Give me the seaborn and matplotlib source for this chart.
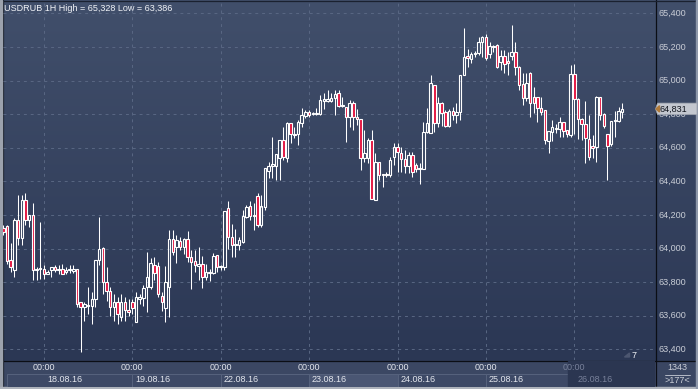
import numpy as np
import pandas as pd
import matplotlib
matplotlib.use("Agg")
import matplotlib.pyplot as plt
import matplotlib.transforms as mtransforms
from matplotlib.colors import LinearSegmentedColormap
from matplotlib.patches import Rectangle, Polygon
import seaborn as sns

# ==========================================
# data (USDRUB 1H)
# ==========================================
title = "USDRUB 1H High = 65,328 Low = 63,386"

opens = [
    64.12, 64.136, 63.93, 63.87, 64.17, 64.06, 64.29, 64.17, 64.20, 63.87,
    63.88, 63.88, 63.85, 63.87, 63.89, 63.87, 63.876, 63.86, 63.87, 63.866,
    63.88, 63.68, 63.65, 63.66, 63.66, 63.70, 63.93, 64.00, 63.80, 63.75,
    63.65, 63.68, 63.595, 63.684, 63.634, 63.684, 63.564, 63.70, 63.704, 63.768,
    63.768, 63.90, 63.896, 63.72, 63.644, 63.768, 64.054, 64.007, 64.046, 64.01,
    64.054, 63.951, 63.925, 63.896, 63.905, 63.832, 63.858, 63.852, 63.96, 63.892,
    63.892, 64.239, 64.066, 64.02, 64.02, 64.04, 64.19, 64.253, 64.193, 64.31,
    64.14, 64.249, 64.463, 64.49, 64.491, 64.54, 64.646, 64.537, 64.745, 64.682,
    64.682, 64.745, 64.79, 64.815, 64.80, 64.798, 64.798, 64.880, 64.878, 64.880,
    64.894, 64.928, 64.848, 64.844, 64.785, 64.868, 64.781, 64.769, 64.537, 64.537,
    64.646, 64.289, 64.517, 64.44, 64.44, 64.438, 64.546, 64.606, 64.57, 64.53,
    64.49, 64.556, 64.495, 64.475, 64.475, 64.693, 64.69, 64.973, 64.749, 64.868,
    64.814, 64.729, 64.82, 64.795, 64.814, 65.033, 65.146, 65.13, 65.158, 65.162,
    65.231, 65.257, 65.16, 65.205, 65.211, 65.112, 65.146, 65.118, 65.146, 65.172,
    65.082, 64.98, 64.894, 65.043, 64.90, 64.904, 64.835, 64.825, 64.642, 64.696,
    64.71, 64.71, 64.755, 64.706, 64.676, 65.039, 64.888, 64.769, 64.741, 64.65,
    64.61, 64.606, 64.90, 64.801, 64.682, 64.622, 64.761, 64.76, 64.815,
]
highs = [
    64.14, 64.14, 64.03, 64.18, 64.32, 64.32, 64.33, 64.20, 64.27, 63.89,
    64.16, 63.90, 63.87, 63.89, 63.90, 63.90, 63.91, 63.89, 63.90, 63.90,
    63.88, 63.68, 63.68, 63.77, 63.74, 63.93, 64.19, 64.01, 63.89, 63.77,
    63.73, 63.71, 63.73, 63.714, 63.70, 63.70, 63.74, 63.73, 63.78, 63.98,
    63.941, 63.95, 63.92, 63.74, 63.896, 64.11, 64.11, 64.08, 64.07, 64.065,
    64.104, 63.99, 63.99, 64.01, 63.955, 63.91, 63.88, 63.975, 63.96, 63.90,
    64.223, 64.282, 64.146, 64.116, 64.066, 64.229, 64.26, 64.282, 64.27, 64.33,
    64.32, 64.477, 64.517, 64.666, 64.562, 64.646, 64.725, 64.755, 64.745, 64.725,
    64.765, 64.834, 64.824, 64.824, 64.815, 64.834, 64.914, 64.924, 64.944, 64.924,
    64.944, 64.944, 64.904, 64.844, 64.884, 64.88, 64.828, 64.769, 64.705, 64.656,
    64.705, 64.566, 64.517, 64.44, 64.457, 64.547, 64.626, 64.626, 64.606, 64.586,
    64.576, 64.576, 64.507, 64.507, 64.755, 64.834, 65.033, 64.973, 64.904, 64.874,
    64.824, 64.828, 64.84, 64.868, 65.033, 65.315, 65.19, 65.172, 65.178, 65.261,
    65.265, 65.277, 65.231, 65.211, 65.217, 65.182, 65.182, 65.172, 65.328, 65.231,
    65.086, 65.047, 65.047, 65.053, 64.96, 64.904, 64.90, 64.825, 64.702, 64.765,
    64.742, 64.785, 64.755, 64.706, 65.093, 65.10, 64.894, 64.775, 64.88, 64.795,
    64.676, 64.908, 64.90, 64.805, 64.682, 64.761, 64.82, 64.844, 64.864,
]
lows = [
    64.08, 63.91, 63.86, 63.83, 64.02, 64.02, 64.14, 64.13, 63.81, 63.81,
    63.82, 63.82, 63.85, 63.83, 63.86, 63.85, 63.85, 63.85, 63.855, 63.855,
    63.65, 63.386, 63.57, 63.61, 63.55, 63.65, 63.90, 63.73, 63.69, 63.60,
    63.57, 63.55, 63.57, 63.57, 63.60, 63.61, 63.564, 63.67, 63.66, 63.624,
    63.76, 63.81, 63.71, 63.63, 63.564, 63.594, 63.961, 63.915, 63.99, 63.967,
    63.921, 63.757, 63.86, 63.81, 63.763, 63.812, 63.808, 63.848, 63.862, 63.872,
    63.872, 64.0, 63.947, 63.947, 63.991, 64.034, 64.18, 64.17, 64.11, 64.13,
    64.13, 64.23, 64.418, 64.418, 64.408, 64.41, 64.527, 64.517, 64.626, 64.656,
    64.616, 64.725, 64.775, 64.785, 64.795, 64.795, 64.795, 64.828, 64.874, 64.874,
    64.795, 64.84, 64.84, 64.636, 64.725, 64.705, 64.735, 64.467, 64.517, 64.507,
    64.293, 64.289, 64.408, 64.368, 64.428, 64.428, 64.497, 64.457, 64.457, 64.447,
    64.451, 64.427, 64.457, 64.384, 64.471, 64.689, 64.689, 64.695, 64.725, 64.729,
    64.721, 64.721, 64.765, 64.745, 64.765, 65.033, 65.082, 65.102, 65.142, 65.152,
    65.142, 65.122, 65.132, 65.172, 65.072, 65.062, 65.042, 65.033, 65.122, 65.033,
    64.943, 64.855, 64.88, 64.785, 64.805, 64.755, 64.795, 64.622, 64.571, 64.642,
    64.69, 64.662, 64.662, 64.666, 64.662, 64.682, 64.65, 64.646, 64.507, 64.527,
    64.537, 64.517, 64.765, 64.72, 64.408, 64.61, 64.662, 64.755, 64.775,
]
closes = [
    64.10, 63.926, 63.89, 64.17, 64.06, 64.29, 64.17, 64.20, 63.87, 63.88,
    63.88, 63.85, 63.86, 63.89, 63.87, 63.875, 63.85, 63.87, 63.875, 63.876,
    63.67, 63.65, 63.67, 63.665, 63.70, 63.93, 64.00, 63.80, 63.75, 63.65,
    63.68, 63.61, 63.684, 63.634, 63.62, 63.644, 63.713, 63.71, 63.763, 63.828,
    63.911, 63.856, 63.729, 63.684, 63.80, 64.054, 63.981, 64.05, 64.01, 64.054,
    63.951, 63.921, 63.90, 63.905, 63.832, 63.858, 63.852, 63.955, 63.892, 63.895,
    64.223, 64.07, 64.02, 64.022, 64.05, 64.193, 64.249, 64.193, 64.20, 64.14,
    64.25, 64.477, 64.491, 64.50, 64.562, 64.646, 64.543, 64.749, 64.682, 64.676,
    64.755, 64.795, 64.815, 64.795, 64.805, 64.805, 64.884, 64.888, 64.888, 64.894,
    64.92, 64.848, 64.854, 64.785, 64.868, 64.781, 64.769, 64.537, 64.566, 64.646,
    64.293, 64.517, 64.438, 64.436, 64.437, 64.527, 64.606, 64.576, 64.53, 64.49,
    64.556, 64.457, 64.471, 64.477, 64.693, 64.749, 64.983, 64.749, 64.868, 64.808,
    64.729, 64.82, 64.795, 64.814, 65.033, 65.142, 65.132, 65.158, 65.162, 65.231,
    65.257, 65.132, 65.205, 65.201, 65.078, 65.146, 65.096, 65.106, 65.172, 65.082,
    64.973, 64.894, 64.988, 64.868, 64.868, 64.835, 64.815, 64.646, 64.702, 64.722,
    64.716, 64.755, 64.702, 64.682, 65.039, 64.888, 64.769, 64.741, 64.656, 64.547,
    64.597, 64.90, 64.795, 64.73, 64.611, 64.761, 64.765, 64.82, 64.831,
]

price_ticks = [63.4, 63.6, 63.8, 64.0, 64.2, 64.4, 64.6, 64.8, 65.0, 65.2, 65.4]
day_bars = [11, 35, 59, 83, 107, 131, 155]          # bars at 00:00
day_labels = ["18.08.16", "19.08.16", "22.08.16", "23.08.16",
              "24.08.16", "25.08.16", "26.08.16"]
hour_label = "00:00"
n_slots = 177
last_price = 64.831
bars_total = "1343"
shift_label = "7"

assert len(opens) == len(highs) == len(lows) == len(closes)

# ==========================================
# style
# ==========================================
sns.set_theme(style="dark")
plt.rcParams["font.family"] = ["Liberation Sans", "DejaVu Sans"]

RED = "#e3143f"
WICK = "#ffffff"
GRID = "#596783"
TXT = "#e4e7ee"
AXTXT = "#c9cdd6"
FS = 6.5

W, H = 698, 389
fig = plt.figure(figsize=(W / 100, H / 100), dpi=100)


def box(x0, y0, x1, y1):
    # pixel box (top-left origin) -> figure fraction
    return [x0 / W, 1 - y1 / H, (x1 - x0) / W, (y1 - y0) / H]


# background layer in pixel coordinates
bg = fig.add_axes([0, 0, 1, 1])
bg.set_xlim(0, W)
bg.set_ylim(H, 0)
bg.axis("off")
cmap = LinearSegmentedColormap.from_list("bg", ["#414f6b", "#2b3754"])
bg.imshow(np.linspace(0, 1, 256)[:, None], cmap=cmap, extent=(0, W, 361, 0),
          aspect="auto", zorder=0)
bg.add_patch(Rectangle((0, 361), 656, 28, color="#3b4763", zorder=1))
bg.add_patch(Rectangle((656, 361), 42, 28, color="#3a4662", zorder=1))
bg.plot([655.5, 655.5], [0, H], color="#0b0e15", lw=0.9, zorder=2)
bg.plot([0, W], [360.5, 360.5], color="#0b0e15", lw=0.9, zorder=2)
bg.plot([0, W], [0.5, 0.5], color="#1a2130", lw=0.9, zorder=2)
bg.plot([2.5, 2.5], [0, 387], color="#141a26", lw=0.9, zorder=2)
bg.add_patch(Rectangle((0, 0), 2, H, color="#9ca2ad", zorder=3))
bg.add_patch(Rectangle((0, 387), W, 2, color="#aeb3bc", zorder=3))
bg.add_patch(Rectangle((696, 0), 2, H, color="#8e98aa", zorder=3))

bg.text(4, 8.5, title, color="#f2f4f8", fontsize=FS, va="center", ha="left", zorder=4)
bg.text(677, 368, bars_total, color=AXTXT, fontsize=FS, va="center", ha="center", zorder=4)
bg.plot([665, 690], [374.5, 374.5], color=AXTXT, lw=0.6, zorder=4)
bg.text(677, 380.5, f">{n_slots}<", color=AXTXT, fontsize=FS, va="center", ha="center", zorder=4)
bg.add_patch(Polygon([(624.5, 357), (629.5, 353), (629.5, 357)], color="#4c5670", zorder=4))
bg.text(631.5, 355, shift_label, color="#f2f4f8", fontsize=FS, va="center", ha="left", zorder=4)

# ==========================================
# main price panel
# ==========================================
XMIN, XMAX = -0.1, n_slots - 0.1
PX_PER_PRICE = 168.0
ax = fig.add_axes(box(3, 1, 655, 360))
ax.set_xlim(XMIN, XMAX)
ax.set_ylim(65.4 - (360 - 13.3) / PX_PER_PRICE, 65.4 + (13.3 - 1) / PX_PER_PRICE)
ax.axis("off")

for p in price_ticks:
    ax.axhline(p, color=GRID, lw=0.7, ls=(0, (3, 4)), zorder=1)
for b in day_bars:
    ax.axvline(b, color=GRID, lw=0.7, ls=(0, (3, 4)), zorder=1)

df = pd.DataFrame({"open": opens, "high": highs, "low": lows, "close": closes})
df["bar"] = np.arange(len(df))
df["top"] = df[["open", "close"]].max(axis=1)
df["bot"] = df[["open", "close"]].min(axis=1)
df["down"] = df["close"] < df["open"]

ax.vlines(df["bar"], df["top"], df["high"], color=WICK, lw=0.75, zorder=3)
ax.vlines(df["bar"], df["low"], df["bot"], color=WICK, lw=0.75, zorder=3)
bw = 0.68
for r in df.itertuples():
    h = max(r.top - r.bot, 0.005)
    ax.add_patch(Rectangle((r.bar - bw / 2, r.bot), bw, h,
                           fc=RED if r.down else "none", ec=WICK, lw=0.8, zorder=4))

# right price scale
trans = mtransforms.blended_transform_factory(ax.transAxes, ax.transData)


def ax_x(px):
    return (px - 3) / 652


for p in price_ticks:
    ax.text(ax_x(658.3), p, f"{p:.3f}".replace(".", ","), transform=trans,
            ha="left", va="center", fontsize=FS, color=AXTXT, clip_on=False)

dy = 5.8 / PX_PER_PRICE
tag = Polygon([(ax_x(655.5), last_price), (ax_x(657.5), last_price + dy),
               (ax_x(697), last_price + dy), (ax_x(697), last_price - dy),
               (ax_x(657.5), last_price - dy)],
              closed=True, transform=trans, clip_on=False,
              fc="#c3c7cf", ec="#9aa0ab", lw=0.5, zorder=5)
ax.add_patch(tag)
ax.add_patch(Polygon([(ax_x(656), last_price), (ax_x(659.5), last_price + dy * 0.55),
                      (ax_x(659.5), last_price - dy * 0.55)],
                     closed=True, transform=trans, clip_on=False, color="#b07a3a", zorder=6))
ax.text(ax_x(659.5), last_price, f"{last_price:.3f}".replace(".", ","), transform=trans,
        ha="left", va="center", fontsize=FS, color="#10141c", clip_on=False, zorder=7)

# ==========================================
# time scale panel
# ==========================================
ax_t = fig.add_axes(box(3, 361, 655, 387))
ax_t.set_xlim(XMIN, XMAX)
ax_t.set_ylim(387, 361)
ax_t.axis("off")

bounds = [XMIN + 1] + day_bars[1:] + [XMAX]
for k in range(len(day_labels)):
    fc = "#4a5673" if k == 3 else "#3d4966"
    ax_t.add_patch(Rectangle((bounds[k], 373.5), bounds[k + 1] - bounds[k], 13,
                             fc=fc, ec="#56627d", lw=0.7, zorder=1))
ax_t.add_patch(Rectangle((day_bars[-1] - 1.8, 361), XMAX - day_bars[-1] + 1.8, 26,
                         color="#2b3651", zorder=2))

for k, (b, lab) in enumerate(zip(day_bars, day_labels)):
    col = "#78819a" if k == len(day_bars) - 1 else TXT
    ax_t.text(b, 367.5, hour_label, ha="center", va="center", fontsize=FS, color=col, zorder=3)
    ax_t.text(b + 0.8, 380, lab, ha="left", va="center", fontsize=FS, color=col, zorder=3)

fig.savefig("out.png", dpi=100)
